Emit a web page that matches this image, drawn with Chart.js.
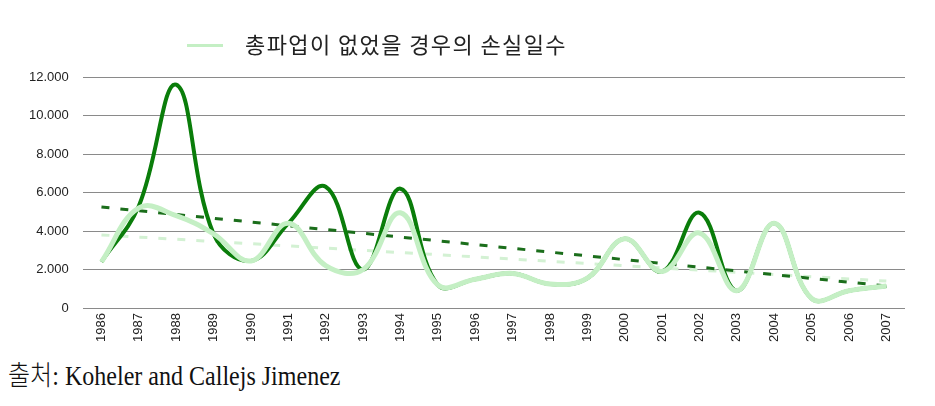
<!DOCTYPE html>
<html>
<head>
<meta charset="utf-8">
<script src="https://cdn.jsdelivr.net/npm/chart.js@4"></script>
<style>
  body { margin: 0; background: #fff; width: 935px; height: 406px; overflow: hidden; position: relative; }
  #wrap { position: absolute; left: 0; top: 0; width: 935px; height: 347px; }
  #legend { position: absolute; left: 187px; top: 27px; font-family: "Noto Sans CJK KR", sans-serif; font-size: 22px; letter-spacing: 1.4px; color: #222; white-space: nowrap; }
  #legend .swatch { display: inline-block; width: 36px; height: 3px; background: #c4efc4; vertical-align: middle; margin-right: 22px; position: relative; top: -2px; }
  #source { position: absolute; left: 8px; top: 354px; font-family: "Liberation Serif", serif; font-size: 27px; color: #111; transform: scaleX(0.89); transform-origin: left top; white-space: nowrap; }
  #source .ko { font-family: "Noto Sans CJK KR", sans-serif; font-weight: 300; }
</style>
</head>
<body>
<div id="wrap"><canvas id="chart"></canvas></div>
<div id="legend"><span class="swatch"></span>총파업이 없었을 경우의 손실일수</div>
<div id="source"><span class="ko">출처</span>: Koheler and Callejs Jimenez</div>
<script>
/* Data */
const years = ["1986", "1987", "1988", "1989", "1990", "1991", "1992", "1993", "1994", "1995", "1996",
    "1997", "1998", "1999", "2000", "2001", "2002", "2003", "2004", "2005", "2006", "2007"];

// actual days lost (with general strikes)
const lostDays = [2400, 5300, 11600, 3850, 2450, 4400, 6300, 2000, 6200, 1200, 1500,
    1800, 1250, 1550, 3600, 1900, 4950, 900, 4400, 500, 900, 1150];

// days lost had there been no general strike
const lostNoStrike = [2400, 5200, 4800, 3850, 2450, 4400, 2200, 2000, 4950, 1200, 1500,
    1800, 1250, 1550, 3600, 1900, 3900, 900, 4400, 500, 900, 1150];

// linear trend lines (end points)
const trendActual = [5250, null, null, null, null, null, null, null, null, null, null,
    null, null, null, null, null, null, null, null, null, null, 1150];
const trendNoStrike = [3800, null, null, null, null, null, null, null, null, null, null,
    null, null, null, null, null, null, null, null, null, null, 1400];

const yTicks = [0, 2000, 4000, 6000, 8000, 10000, 12000];

const darkGreen = "#0a7d0a";
const lightGreen = "#c4efc4";

function fmt(v) {
    return v === 0 ? "0" : v.toLocaleString("de-DE");
}

// dataset 0 is painted last (on top)
const ctx = document.getElementById("chart");
new Chart(ctx, {
    type: "line",
    data: {
        labels: years,
        datasets: [
            {
                label: "총파업이 없었을 경우의 손실일수",
                data: lostNoStrike,
                borderColor: lightGreen,
                borderWidth: 5,
                pointRadius: 0,
                tension: 0.4,
            },
            {
                label: "actual",
                data: lostDays,
                borderColor: darkGreen,
                borderWidth: 4,
                pointRadius: 0,
                tension: 0.4,
            },
            {
                label: "trend-actual",
                data: trendActual,
                borderColor: "#1b6e1b",
                borderWidth: 3,
                borderDash: [8, 11],
                spanGaps: true,
                pointRadius: 0,
                tension: 0,
            },
            {
                label: "trend-no-strike",
                data: trendNoStrike,
                borderColor: "#d3f1d3",
                borderWidth: 3,
                borderDash: [8, 11],
                spanGaps: true,
                pointRadius: 0,
                tension: 0,
            },
        ]
    },
    options: {
        responsive: true,
        maintainAspectRatio: false,
        animation: false,
        layout: {
            padding: { top: 77, left: 15, right: 30, bottom: 0 }
        },
        plugins: {
            legend: { display: false },
            tooltip: { enabled: false },
        },
        scales: {
            x: {
                offset: true,
                grid: { display: false, drawTicks: false },
                border: { display: false },
                ticks: {
                    minRotation: 90,
                    maxRotation: 90,
                    autoSkip: false,
                    padding: 5,
                    color: "#222",
                    font: { family: "Liberation Sans", size: 13 },
                },
            },
            y: {
                min: 0,
                max: 12000,
                afterBuildTicks: (axis) => {
                    axis.ticks = yTicks.map(v => ({ value: v }));
                },
                grid: {
                    color: "#8a8a8a",
                    lineWidth: 1,
                    drawTicks: false,
                },
                border: { display: false },
                ticks: {
                    padding: 14,
                    color: "#222",
                    font: { family: "Liberation Sans", size: 13 },
                    callback: (v) => fmt(v),
                },
            },
        },
    },
});
</script>
</body>
</html>
